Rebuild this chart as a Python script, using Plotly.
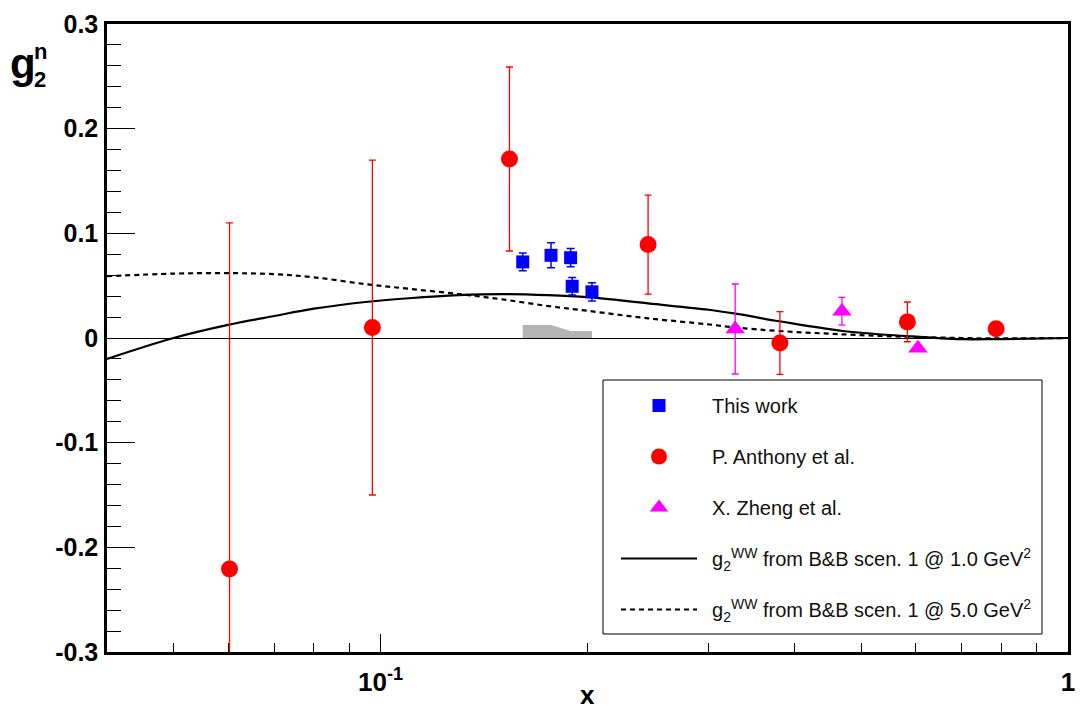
import plotly.graph_objects as go

# ---------------- data ----------------
this_x = [0.161, 0.177, 0.189, 0.190, 0.203]
this_y = [0.0727, 0.0790, 0.0767, 0.0494, 0.0441]
this_err = [0.0085, 0.0120, 0.0087, 0.0083, 0.0087]
this_sys = [0.0124, 0.0124, 0.0067, 0.0067, 0.0067]

anth_x = [0.0603, 0.0973, 0.154, 0.245, 0.381, 0.584, 0.786]
anth_y = [-0.2206, 0.0100, 0.1710, 0.0893, -0.0048, 0.0154, 0.0089]
anth_err = [0.3306, 0.1600, 0.0879, 0.0473, 0.0300, 0.0190, 0.0030]

zheng_x = [0.328, 0.469, 0.605]
zheng_y = [0.0086, 0.0256, -0.0098]
zheng_err = [0.0430, 0.0133, 0.0030]

ww_x = [0.04, 0.05, 0.06, 0.07, 0.08, 0.095, 0.11, 0.13, 0.15, 0.175, 0.2,
        0.245, 0.3, 0.33, 0.38, 0.47, 0.58, 0.7, 0.8, 1.0]
ww_q1 = [-0.020, 0.000, 0.0125, 0.021, 0.028, 0.0344, 0.038, 0.041, 0.042, 0.041,
         0.039, 0.033, 0.027, 0.023, 0.016, 0.0067, 0.0019, -0.0012, -0.0010, 0.0]
ww_q5 = [0.059, 0.0615, 0.062, 0.061, 0.058, 0.0515, 0.047, 0.042, 0.037, 0.0306,
         0.026, 0.0188, 0.013, 0.0099, 0.0067, 0.0035, 0.0012, 0.0, -0.0004, 0.0]

y_ticks = [-0.3, -0.2, -0.1, 0.0, 0.1, 0.2, 0.3]
y_tick_text = ["-0.3", "-0.2", "-0.1", "0", "0.1", "0.2", "0.3"]
x_ticks = [0.1, 1.0]
x_tick_text = ["10<sup>-1</sup>", "1"]
x_minor = [0.05, 0.06, 0.07, 0.08, 0.09, 0.2, 0.3, 0.4, 0.5, 0.6, 0.7, 0.8, 0.9]

PAD = "\u2002"
leg_this = PAD + "This work"
leg_anth = PAD + "P. Anthony et al."
leg_zheng = PAD + "X. Zheng et al."
leg_q1 = PAD + "g<sub>2</sub><sup>WW</sup> from B&amp;B scen. 1 @ 1.0 GeV<sup>2</sup>"
leg_q5 = PAD + "g<sub>2</sub><sup>WW</sup> from B&amp;B scen. 1 @ 5.0 GeV<sup>2</sup>"

# ---------------- layout geometry ----------------
W, H = 1084, 712
ML, MR, MT, MB = 107, 16, 24, 60
PW, PH = W - ML - MR, H - MT - MB


def px2x(px):
    return (px - ML) / PW


def px2y(py):
    return (H - MB - py) / PH


FONT = "Liberation Sans, Arial, sans-serif"

fig = go.Figure()

# systematic band
fig.add_trace(go.Scatter(x=this_x, y=this_sys, mode="lines", fill="tozeroy",
                         line=dict(width=0, color="#b4b4b4"), fillcolor="#b4b4b4",
                         showlegend=False, hoverinfo="skip"))

fig.add_trace(go.Scatter(x=ww_x, y=ww_q1, mode="lines", name=leg_q1,
                         line=dict(color="black", width=2.2, shape="spline"),
                         legendgroup="d", legendrank=4))
fig.add_trace(go.Scatter(x=ww_x, y=ww_q5, mode="lines", name=leg_q5,
                         line=dict(color="black", width=2.2, shape="spline", dash="5px,4px"),
                         legendgroup="e", legendrank=5))

fig.add_trace(go.Scatter(x=anth_x, y=anth_y, mode="markers", name=leg_anth,
                         marker=dict(symbol="circle", size=17, color="#ff0000"),
                         error_y=dict(type="data", array=anth_err, color="#ff0000",
                                      thickness=1.3, width=3.5),
                         legendgroup="b", legendrank=2))
fig.add_trace(go.Scatter(x=zheng_x, y=zheng_y, mode="markers", name=leg_zheng,
                         marker=dict(symbol="triangle-up", size=17, color="#ff00ff"),
                         error_y=dict(type="data", array=zheng_err, color="#ff00ff",
                                      thickness=1.3, width=3.5),
                         legendgroup="c", legendrank=3))
fig.add_trace(go.Scatter(x=this_x, y=this_y, mode="markers", name=leg_this,
                         marker=dict(symbol="square", size=13, color="#0000ff"),
                         error_y=dict(type="data", array=this_err, color="#0000ff",
                                      thickness=1.5, width=4),
                         legendgroup="a", legendrank=1))

# legend frame (drawn as shape)
fig.add_shape(type="rect", xref="paper", yref="paper",
              x0=px2x(603), x1=px2x(1042), y0=px2y(634), y1=px2y(380),
              line=dict(color="black", width=1), fillcolor="white", layer="above")

fig.update_layout(
    width=W, height=H,
    margin=dict(l=ML, r=MR, t=MT, b=MB, autoexpand=False),
    paper_bgcolor="white", plot_bgcolor="white",
    font=dict(family=FONT, color="black"),
    showlegend=True,
    legend=dict(x=px2x(616), y=px2y(386), xanchor="left", yanchor="top",
                bgcolor="rgba(0,0,0,0)", borderwidth=0,
                font=dict(size=20, family=FONT, color="#111111"),
                traceorder="grouped", tracegroupgap=22, itemwidth=76),
    xaxis=dict(type="log", range=[-1.39794, 0.0], tickvals=x_ticks, ticktext=x_tick_text,
               ticks="inside", ticklen=18, tickwidth=1, tickcolor="black",
               showline=True, linewidth=2.5, linecolor="black", mirror=True,
               showgrid=False, zeroline=False, automargin=False,
               tickfont=dict(size=26, family=FONT, weight="bold"),
               ticklabelstandoff=5,
               minor=dict(tickvals=x_minor, ticks="inside", ticklen=9, tickwidth=1,
                          tickcolor="black", showgrid=False)),
    yaxis=dict(range=[-0.3, 0.3], tickvals=y_ticks, ticktext=y_tick_text,
               ticks="inside", ticklen=28, tickwidth=1, tickcolor="black",
               showline=True, linewidth=2.5, linecolor="black", mirror=True,
               showgrid=False, zeroline=True, zerolinecolor="black", zerolinewidth=1,
               automargin=False,
               tickfont=dict(size=25, family=FONT, weight="bold"),
               ticklabelstandoff=1,
               minor=dict(dtick=0.02, ticks="inside", ticklen=14, tickwidth=1,
                          tickcolor="black", showgrid=False)),
    annotations=[
        dict(text="<b>x</b>", xref="paper", yref="paper", x=px2x(587), y=px2y(695),
             xanchor="center", yanchor="middle", showarrow=False,
             font=dict(size=26, family=FONT)),
        dict(text="<b>g</b>", xref="paper", yref="paper", x=px2x(8), y=px2y(63),
             xanchor="left", yanchor="middle", showarrow=False,
             font=dict(size=42, family=FONT)),
        dict(text="<b>2</b>", xref="paper", yref="paper", x=px2x(32), y=px2y(80),
             xanchor="left", yanchor="middle", showarrow=False,
             font=dict(size=22, family=FONT)),
        dict(text="<b>n</b>", xref="paper", yref="paper", x=px2x(32), y=px2y(52),
             xanchor="left", yanchor="middle", showarrow=False,
             font=dict(size=22, family=FONT)),
    ],
)

fig.write_html("out.html")
